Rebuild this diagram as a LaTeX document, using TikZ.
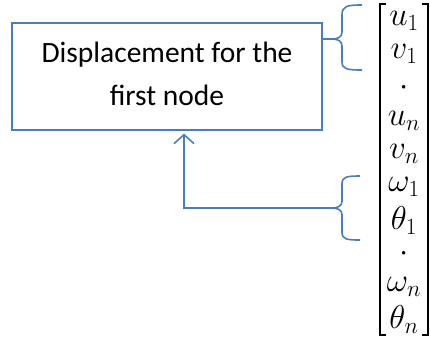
\documentclass[tikz,border=0pt]{standalone}
\usepackage{fix-cm}
\usepackage{fontspec}
\setmainfont{Carlito}
\usetikzlibrary{arrows.meta}
\definecolor{office}{HTML}{4A7EBB}
\tikzset{
  box/.style={draw=office, line width=1.2pt, minimum width=310pt, minimum height=107pt, inner sep=0pt},
  label/.style={inner sep=0pt, align=center, font=\fontsize{29.5}{43}\selectfont},
  bluel/.style={draw=office, line width=1.6pt},
  entry/.style={inner sep=0pt, font=\fontsize{33}{36}\selectfont},
  dotentry/.style={entry, text height=10pt, text depth=0pt},
  bracket/.style={draw=black, line width=1.8pt}
}
\begin{document}
\begin{tikzpicture}[x=1pt,y=-1pt]
\useasboundingbox (0,0) rectangle (430,338);
% label box and its two lines of text
\node[box] (disp) at (167,76.5) {};
\node[label] (txt) at (167,73.5) {Displacement for the\\first node};
% column vector entries
\node[entry] (e1) at (404,21.0) {$u_1$};
\node[entry] (e2) at (404,54.2) {$v_1$};
\node[dotentry] (e3) at (404,90.4) {$\cdot$};
\node[entry] (e4) at (404,120.6) {$u_n$};
\node[entry] (e5) at (404,153.8) {$v_n$};
\node[entry] (e6) at (404,187.0) {$\omega_1$};
\node[entry] (e7) at (404,220.2) {$\theta_1$};
\node[dotentry] (e8) at (404,256.4) {$\cdot$};
\node[entry] (e9) at (404,286.6) {$\omega_n$};
\node[entry] (e10) at (404,319.8) {$\theta_n$};
% square brackets
\draw[bracket] (386,4) -- (380,4) -- (380,335) -- (386,335);
\draw[bracket] (422,4) -- (428,4) -- (428,335) -- (422,335);
% braces grouping the entries
\coordinate (b1) at (332,39);
\coordinate (b2) at (332,208);
\draw[bluel] (362,5) .. controls (347,5) and (342,6) .. (342,15) -- (342,32)
  .. controls (342,37) and (338,39) .. (b1)
  .. controls (338,39) and (342,41) .. (342,46) -- (342,62)
  .. controls (342,69) and (347,70) .. (362,70);
\draw[bluel] (360,176) .. controls (346,176) and (342,177) .. (342,184) -- (342,201)
  .. controls (342,206) and (338,208) .. (b2)
  .. controls (338,208) and (342,210) .. (342,215) -- (342,232)
  .. controls (342,239) and (346,240) .. (360,240);
% connectors
\draw[bluel] (disp.east |- b1) -- (b1);
\draw[bluel, -{Straight Barb[length=9pt, width=20pt, line width=1.6pt]}, shorten >=3pt]
  (b2) -- (184,208) -- (disp.south -| 184,0);
\end{tikzpicture}
\end{document}
